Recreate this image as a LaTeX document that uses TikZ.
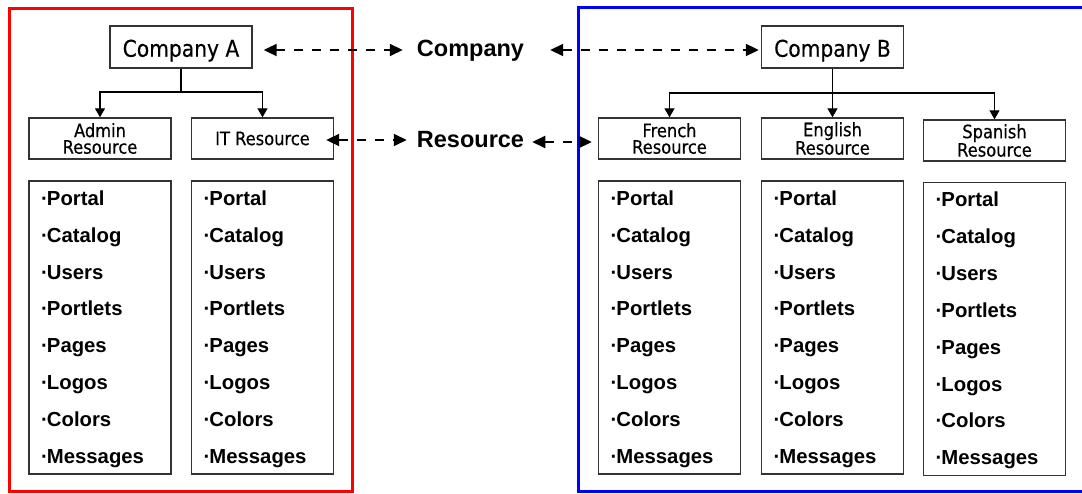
\documentclass[tikz,border=0pt]{standalone}
\usepackage{fontspec}
\setmainfont{Liberation Sans}
\newfontfamily\boxfont{DejaVu Sans}[FakeStretch=0.88,FakeBold=0.4]
\usetikzlibrary{arrows.meta,calc}

\tikzset{
  frame/.style={line width=3pt},
  box/.style={draw=black!80, line width=1.4pt, rectangle, inner sep=0pt, align=center},
  topbox/.style={box, minimum width=142pt, minimum height=42pt,
    font=\boxfont\fontsize{23}{26}\selectfont, text height=19.5pt, text depth=0pt},
  resbox/.style={box, minimum width=142pt, minimum height=41pt,
    font=\boxfont\fontsize{18.5}{16.5}\selectfont},
  listbox/.style={box, minimum width=142pt, minimum height=293pt},
  item/.style={font=\bfseries\fontsize{20.3}{20}\selectfont, anchor=base west, inner sep=0pt},
  midlabel/.style={font=\bfseries\fontsize{23.5}{24}\selectfont, inner sep=0pt, anchor=base},
  tree/.style={line width=1.3pt, -{Triangle[length=9pt,width=10pt]}},
  dbl/.style={line width=2pt, dash pattern=on 9pt off 9pt,
    {Triangle[length=13pt,width=12pt]}-{Triangle[length=13pt,width=12pt]}}
}

\begin{document}
\begin{tikzpicture}[x=1pt, y=-1pt]
\useasboundingbox (0,0) rectangle (1082,494);
\fill[white] (0,0) rectangle (1082,494);

% grouping frames
\draw[frame, red]  (9.5,9) rectangle (352.5,491.5);
\draw[frame, blue] (578,7.5) rectangle (1095,491.5);

% Company A tree
\node[topbox] (ca)  at (181,47)    {Company A};
\node[resbox] (adm) at (100,138.5) {Admin\\Resource};
\node[resbox] (itr) at (262.5,138.5) {IT Resource};
\node[listbox] (ladm) at (100,327.5) {};
\node[listbox] (litr) at (262.5,327.5) {};

% Company B tree
\node[topbox] (cb)  at (832.5,47)    {Company B};
\node[resbox] (fr)  at (669.5,138.5) {French\\Resource};
\node[resbox] (en)  at (832.5,138.5) {English\\Resource};
\node[resbox] (es)  at (994.5,140.5) {Spanish\\Resource};
\node[listbox] (lfr) at (669.5,327.5) {};
\node[listbox] (len) at (832.5,327.5) {};
\node[listbox] (les) at (994.5,329) {};

% list contents
\foreach \lb in {ladm,litr,lfr,len,les}{
  \foreach \t [count=\i] in {Portal,Catalog,Users,Portlets,Pages,Logos,Colors,Messages}{
    \node[item] (\lb-\i) at ($(\lb.north west)+(12.5,{25+36.86*(\i-1)})$) {·\kern-0.8pt\t};
  }
}

% tree connectors
\coordinate (ja) at (181,92);
\draw[tree] (ca.south) -- (ja) -| (adm.north);
\draw[tree] (ja) -| (itr.north);
\coordinate (jb) at (832.5,93);
\draw[tree] (cb.south) -- (en.north);
\draw[tree] (jb) -| (fr.north);
\draw[tree] (jb) -| (es.north);

% level labels
\node[midlabel] (comp) at (470.5,57)  {Company};
\node[midlabel] (res)  at (470.5,148) {Resource};

% dashed correspondences
\draw[dbl, shorten <=11pt, shorten >=14pt] (ca.east |- 0,50) -- (comp.west |- 0,50);
\draw[dbl, shorten <=26pt, shorten >=2pt] (comp.east |- 0,50) -- (cb.west |- 0,50);
\draw[dbl, shorten <=-8pt, shorten >=10pt] (itr.east |- 0,140) -- (res.west |- 0,140);
\draw[dbl, shorten <=8pt, shorten >=6pt] (res.east |- 0,142) -- (fr.west |- 0,142);
\end{tikzpicture}
\end{document}
